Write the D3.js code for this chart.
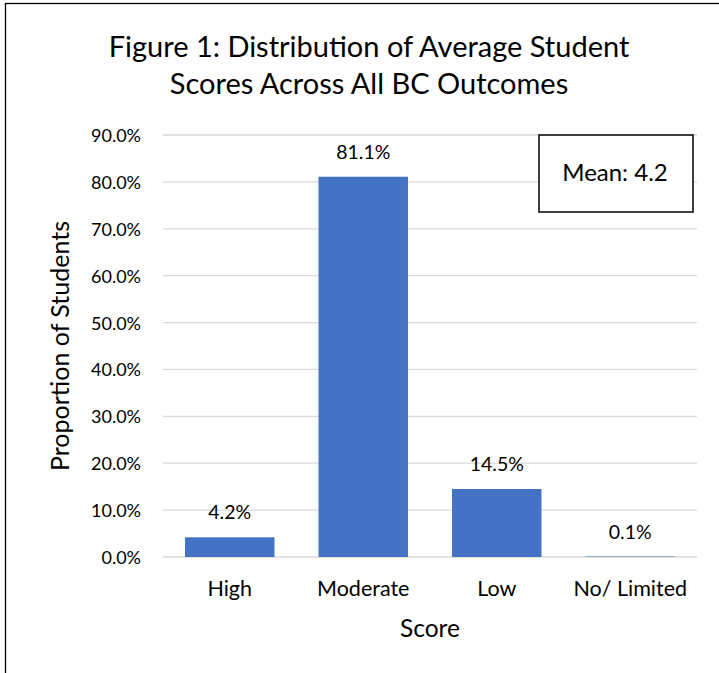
<!DOCTYPE html>
<html>
<head>
<meta charset="utf-8">
<script src="https://cdn.jsdelivr.net/npm/d3@7"></script>
<style>
  body { margin: 0; background: white; }
  text { font-family: Lato, "Open Sans", sans-serif; fill: #000; }
</style>
</head>
<body>
<script>
const categories = ["High", "Moderate", "Low", "No/ Limited"];
const values = [4.2, 81.1, 14.5, 0.1];
const yTicks = [0, 10, 20, 30, 40, 50, 60, 70, 80, 90];
const titleLines = ["Figure 1: Distribution of Average Student", "Scores Across All BC Outcomes"];
const meanLabel = "Mean: 4.2";

const W = 719, H = 673;
const svg = d3.select("body").append("svg")
    .attr("width", W)
    .attr("height", H);

// outer frame
svg.append("rect")
    .attr("x", 5.5).attr("y", 3.5)
    .attr("width", W).attr("height", H)
    .attr("fill", "white")
    .attr("stroke", "#000")
    .attr("stroke-width", 1.3);

const plotLeft = 163, plotRight = 697, plotTop = 135, plotBottom = 557;

const x = d3.scaleBand()
    .domain(categories)
    .range([plotLeft, plotRight])
    .paddingInner(0.33)
    .paddingOuter(0.165);

const y = d3.scaleLinear()
    .domain([0, 90])
    .range([plotBottom, plotTop]);

// gridlines
svg.append("g")
    .selectAll("line")
    .data(yTicks)
    .join("line")
    .attr("x1", plotLeft).attr("x2", plotRight)
    .attr("y1", d => y(d)).attr("y2", d => y(d))
    .attr("stroke", "#d9d9d9")
    .attr("stroke-width", 1.3);

// y tick labels
const yAxis = svg.append("g")
    .attr("transform", `translate(${plotLeft - 22},0)`)
    .call(d3.axisLeft(y).tickValues(yTicks).tickSize(0).tickFormat(d => d.toFixed(1) + "%"));
yAxis.select(".domain").remove();
yAxis.selectAll("text")
    .attr("x", 0)
    .attr("dy", "0.36em")
    .style("font-size", "18px")
    .style("font-family", "Lato, 'Open Sans', sans-serif")
    .attr("fill", "#000");

// bars
svg.append("g")
    .selectAll("rect")
    .data(values)
    .join("rect")
    .attr("x", (d, i) => x(categories[i]))
    .attr("y", d => y(d))
    .attr("width", x.bandwidth())
    .attr("height", d => y(0) - y(d))
    .attr("fill", "#4472c4");

// data labels
svg.append("g")
    .selectAll("text")
    .data(values)
    .join("text")
    .attr("x", (d, i) => x(categories[i]) + x.bandwidth() / 2)
    .attr("y", d => y(d) - 18)
    .attr("text-anchor", "middle")
    .attr("font-size", "19.5px")
    .text(d => d.toFixed(1) + "%");

// x category labels
const xAxis = svg.append("g")
    .attr("transform", `translate(0,${plotBottom})`)
    .call(d3.axisBottom(x).tickSize(0));
xAxis.select(".domain").remove();
xAxis.selectAll("text")
    .attr("y", 39)
    .attr("dy", 0)
    .style("font-size", "21.5px")
    .style("font-family", "Lato, 'Open Sans', sans-serif")
    .attr("fill", "#000");

// axis titles
svg.append("text")
    .attr("x", (plotLeft + plotRight) / 2)
    .attr("y", 637)
    .attr("text-anchor", "middle")
    .attr("font-size", "24.5px")
    .text("Score");

svg.append("text")
    .attr("transform", `translate(69,${(plotTop + plotBottom) / 2}) rotate(-90)`)
    .attr("text-anchor", "middle")
    .attr("font-size", "25px")
    .text("Proportion of Students");

// title
svg.append("g")
    .selectAll("text")
    .data(titleLines)
    .join("text")
    .attr("x", 369)
    .attr("y", (d, i) => 57 + i * 37)
    .attr("text-anchor", "middle")
    .attr("font-size", "29px")
    .text(d => d);

// mean box
svg.append("rect")
    .attr("x", 539).attr("y", 135)
    .attr("width", 154).attr("height", 77)
    .attr("fill", "white")
    .attr("stroke", "#000")
    .attr("stroke-width", 1.5);
svg.append("text")
    .attr("x", 615)
    .attr("y", 181)
    .attr("text-anchor", "middle")
    .attr("font-size", "24px")
    .text(meanLabel);
</script>
</body>
</html>
